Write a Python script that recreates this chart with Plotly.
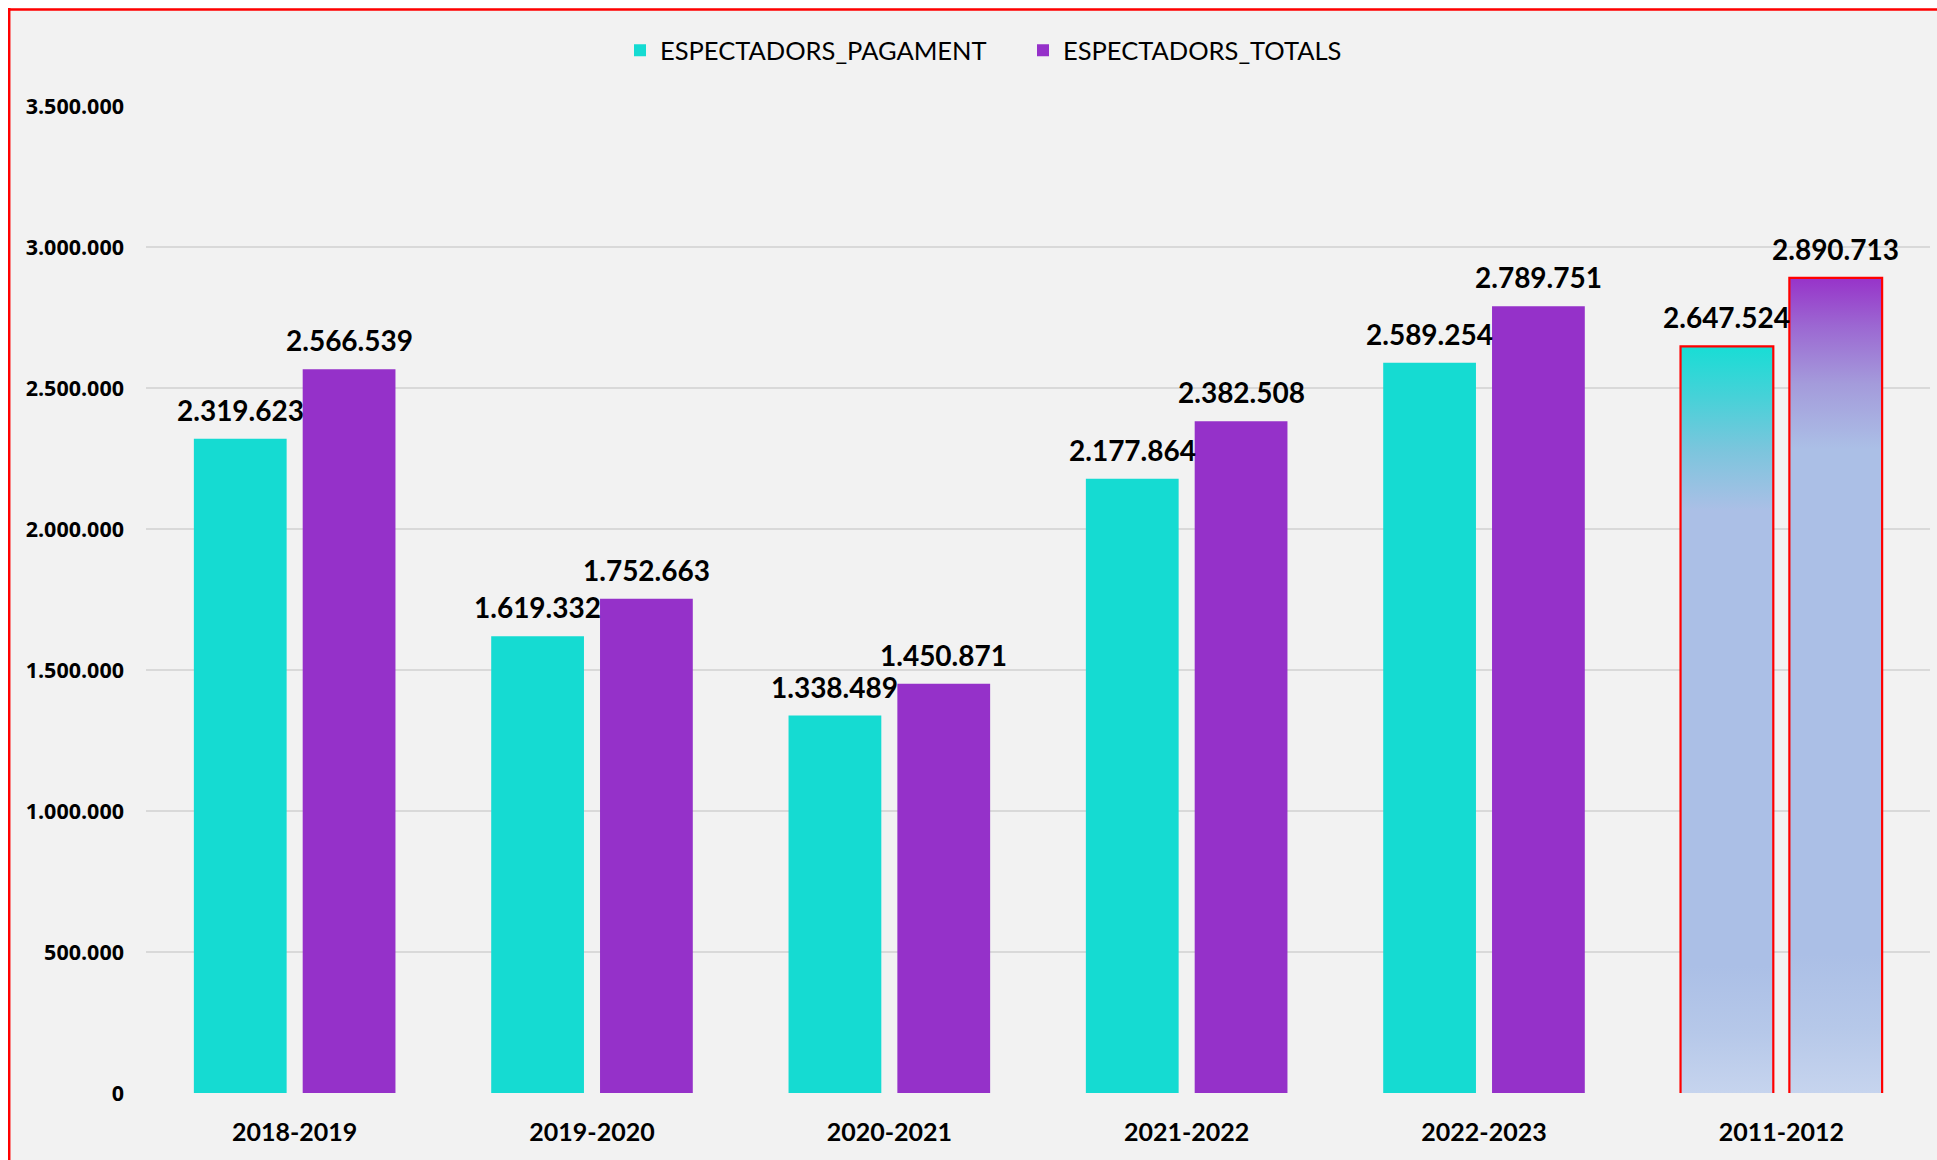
import plotly.graph_objects as go

# ---------------- data ----------------
categories = ["2018-2019", "2019-2020", "2020-2021", "2021-2022", "2022-2023", "2011-2012"]
pagament = [2319623, 1619332, 1338489, 2177864, 2589254, 2647524]
totals = [2566539, 1752663, 1450871, 2382508, 2789751, 2890713]
y_ticks = [0, 500000, 1000000, 1500000, 2000000, 2500000, 3000000, 3500000]
series_names = ["ESPECTADORS_PAGAMENT", "ESPECTADORS_TOTALS"]
highlight_index = 5  # last category drawn with gradient fill

# ---------------- style ----------------
TEAL = "#15DBD2"
PURPLE = "#9531C9"
BAR_W = 0.312
GAP = 0.054
OFFSETS = [-(BAR_W + GAP / 2), GAP / 2]

teal_grad = [[0.0, "#C6D4EE"], [0.08, "#B6C8E9"], [0.17, "#ABBFE6"], [0.78, "#ABBFE6"],
             [0.86, "#7CC5DD"], [0.93, "#48D1D8"], [1.0, "#18DDD5"]]
purple_grad = [[0.0, "#C6D4EE"], [0.08, "#B6C8E9"], [0.17, "#ABBFE6"], [0.79, "#ABBFE6"],
               [0.87, "#A49BDB"], [0.94, "#9C68D2"], [1.0, "#9733C9"]]

FIG_W, FIG_H = 1929, 1152
M_L, M_R, M_T, M_B = 138, 7, 98, 67
PLOT_W = FIG_W - M_L - M_R
PLOT_H = FIG_H - M_T - M_B

x_idx = list(range(len(categories)))
fig = go.Figure()

for s, (name, vals, col) in enumerate(zip(series_names, [pagament, totals], [TEAL, PURPLE])):
    colors = [col if i != highlight_index else "rgba(0,0,0,0)" for i in x_idx]
    fig.add_trace(go.Bar(
        x=x_idx, y=vals, name=name, offset=OFFSETS[s], width=BAR_W,
        marker=dict(color=colors, line=dict(width=0)),
        hoverinfo="y", legendwidth=358,
    ))

# gradient bars for the highlighted category
for s, (vals, grad) in enumerate(zip([pagament, totals], [teal_grad, purple_grad])):
    i = highlight_index
    x0 = i + OFFSETS[s]
    x1 = x0 + BAR_W
    v = vals[i]
    fig.add_trace(go.Scatter(
        x=[x0, x0, x1, x1], y=[0, v, v, 0], mode="lines", fill="toself",
        fillgradient=dict(type="vertical", colorscale=grad, start=0, stop=v),
        line=dict(color="#FF0000", width=2.2), showlegend=False, hoverinfo="skip",
    ))

# value labels
for s, vals in enumerate([pagament, totals]):
    for i, v in zip(x_idx, vals):
        fig.add_annotation(
            x=i + OFFSETS[s] + BAR_W / 2, y=v, xref="x", yref="y",
            text=f"{v:,}".replace(",", "."), showarrow=False,
            yanchor="bottom", yshift=10,
            font=dict(family="Lato", size=28, color="#000000", weight="bold"),
        )

# light grey background panel with red top/left border (kept inside the figure)
px = lambda p: (p - M_L) / PLOT_W
py = lambda p: (FIG_H - M_B - p) / PLOT_H
fig.add_shape(type="rect", xref="paper", yref="paper",
              x0=px(0), x1=px(FIG_W), y0=py(FIG_H), y1=py(0),
              fillcolor="#F2F2F2", line=dict(width=0), layer="below")
fig.add_shape(type="line", xref="paper", yref="paper",
              x0=px(0), x1=px(FIG_W), y0=py(1.5), y1=py(1.5),
              line=dict(color="#FF0000", width=2.5), layer="below")
fig.add_shape(type="line", xref="paper", yref="paper",
              x0=px(1.2), x1=px(1.2), y0=py(0), y1=py(FIG_H),
              line=dict(color="#FF0000", width=2.5), layer="below")

fig.update_layout(
    width=FIG_W, height=FIG_H,
    margin=dict(l=M_L, r=M_R, t=M_T, b=M_B, pad=0),
    paper_bgcolor="#FFFFFF", plot_bgcolor="rgba(0,0,0,0)",
    separators=",.",
    barmode="overlay",
    showlegend=True,
    legend=dict(orientation="h", x=px(612), xanchor="left", y=1.056, yanchor="middle",
                font=dict(family="Lato", size=25.5, color="#000000"),
                bgcolor="rgba(0,0,0,0)"),
    xaxis=dict(range=[-0.5, len(categories) - 0.5], tickvals=x_idx, ticktext=categories,
               showgrid=False, zeroline=False, showline=False, ticks="",
               ticklabelstandoff=22,
               tickfont=dict(family="Lato", size=25, color="#000000", weight="bold")),
    yaxis=dict(range=[0, 3500000], tickvals=y_ticks, tickformat=",.0f",
               showgrid=True, gridcolor="#D9D9D9", gridwidth=2, zeroline=False,
               showline=False, ticks="", ticklabelstandoff=21,
               tickfont=dict(family="Open Sans", size=21.5, color="#000000", weight="bold")),
)

fig.write_html(
    "out.html",
    post_script="document.body.style.margin='8px 0 0 8px';document.body.style.overflow='hidden';",
)
